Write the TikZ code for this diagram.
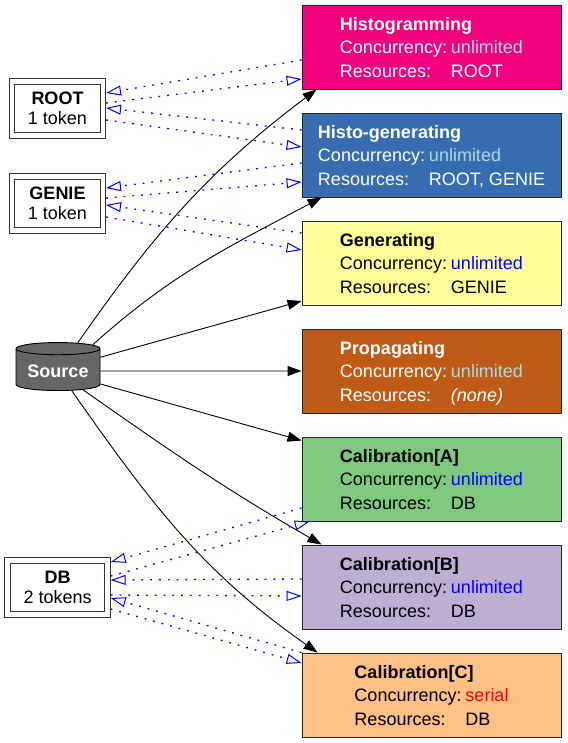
\documentclass[tikz,border=0pt]{standalone}
\usepackage{fontspec}
\setmainfont{Liberation Sans}
\usetikzlibrary{arrows.meta,shapes.geometric}

\definecolor{histcol}{HTML}{F0027F}
\definecolor{hgencol}{HTML}{386CB0}
\definecolor{gencol}{HTML}{FFFF99}
\definecolor{propcol}{HTML}{BF5B17}
\definecolor{calacol}{HTML}{7FC97F}
\definecolor{calbcol}{HTML}{BEAED4}
\definecolor{calccol}{HTML}{FDC086}
\definecolor{srccol}{HTML}{666666}
\definecolor{paleblue}{HTML}{ADD8E6}

\newcommand{\stageinfo}[4]{\textbf{#1}\\
  \makebox[111pt][l]{Concurrency:}\textcolor{#2}{#3}\\
  \makebox[111pt][l]{Resources:}#4}

\begin{document}
\begin{tikzpicture}[x=1pt, y=1pt, node distance={108pt},
  box/.style = {draw=black!85, line width=0.9pt, minimum width=259pt, minimum height=84pt,
    inner sep=0pt, text depth=-3pt, align=left, font=\fontsize{18}{23.5}\selectfont},
  res/.style = {draw=black!80, double, double distance=4.5pt, line width=1pt, inner xsep=16pt,
    minimum height=54pt, outer sep=3pt, align=center, font=\fontsize{18}{20}\selectfont},
  src/.style = {cylinder, shape border rotate=90, aspect=0.18, draw, line width=0.9pt, fill=srccol,
    text=white, minimum width=84pt, minimum height=48pt, font=\fontsize{18}{20}\selectfont\bfseries},
  flow/.style = {line width=0.9pt, -{Triangle[length=14pt,width=10pt]}},
  lock/.style = {blue, line width=1.3pt, dash pattern=on 1.8pt off 7pt,
    -{Triangle[open,length=15pt,width=10pt,line width=1pt]}}]
\useasboundingbox (0,0) rectangle (567,-743);

% stages
\node[box, fill=histcol, text=white] (hist) at (431.5,-47) {\stageinfo{Histogramming}{paleblue}{unlimited}{ROOT}};
\node[box, fill=hgencol, text=white] (hgen) [below of=hist] {\stageinfo{Histo-generating}{paleblue}{unlimited}{ROOT, GENIE}};
\node[box, fill=gencol] (gen) [below of=hgen] {\stageinfo{Generating}{blue}{unlimited}{GENIE}};
\node[box, fill=propcol, text=white] (prop) [below of=gen] {\stageinfo{Propagating}{paleblue}{unlimited}{\textit{(none)}}};
\node[box, fill=calacol] (cala) [below of=prop] {\stageinfo{Calibration[A]}{blue}{unlimited}{DB}};
\node[box, fill=calbcol] (calb) [below of=cala] {\stageinfo{Calibration[B]}{blue}{unlimited}{DB}};
\node[box, fill=calccol] (calc) [below of=calb] {\stageinfo{Calibration[C]}{red}{serial}{DB}};

% source and resources
\node[src] (src) at (58,-371) {Source};
\node[res] (root) at (57.5,-108.5) {\textbf{ROOT}\\1 token};
\node[res] (genie) at (57.5,-203.5) {\textbf{GENIE}\\1 token};
\node[res] (db) at (57.7,-587.5) {\textbf{DB}\\2 tokens};

% data flow
\draw[flow] (src.55) to[out=55,in=217] ([xshift=15pt]hist.south west);
\draw[flow] (src.37) to[out=42,in=208] ([xshift=20pt]hgen.south west);
\draw[flow] (src.18) -- ([yshift=-38pt]gen.west);
\draw[flow] (src) -- (prop);
\draw[flow] (src.-17) -- ([yshift=-4pt]cala.north west);
\draw[flow] (src.-37) to[out=-35,in=150] ([xshift=20pt]calb.north west);
\draw[flow] (src.-55) to[out=-55,in=145] ([xshift=16pt]calc.north west);

% resource locks
\draw[lock] ([yshift=-13pt]hist.west) -- ([yshift=15.5pt]root.east);
\draw[lock] ([yshift=5.5pt]root.east) -- ([yshift=-32pt]hist.west);
\draw[lock] ([yshift=25pt]hgen.west) -- ([yshift=0.5pt]root.east);
\draw[lock] ([yshift=-11.5pt]root.east) -- ([yshift=8pt]hgen.west);
\draw[lock] ([yshift=-8pt]hgen.west) -- ([yshift=15.5pt]genie.east);
\draw[lock] ([yshift=5.5pt]genie.east) -- ([yshift=-27pt]hgen.west);
\draw[lock] ([yshift=30pt]gen.west) -- ([yshift=-1.5pt]genie.east);
\draw[lock] ([yshift=-13.5pt]genie.east) -- ([yshift=13pt]gen.west);
\draw[lock] ([yshift=-29pt]cala.west) -- ([yshift=25.5pt]db.east);
\draw[lock] ([yshift=11.5pt]db.east) -- ([xshift=8pt]cala.south west);
\draw[lock] ([yshift=8pt]calb.west) -- ([yshift=7.5pt]db.east);
\draw[lock] ([yshift=-7.5pt]db.east) -- ([yshift=-9pt]calb.west);
\draw[lock] (calc.north west) -- ([yshift=-10.5pt]db.east);
\draw[lock] ([yshift=-21.5pt]db.east) -- ([yshift=32pt]calc.west);
\end{tikzpicture}
\end{document}
